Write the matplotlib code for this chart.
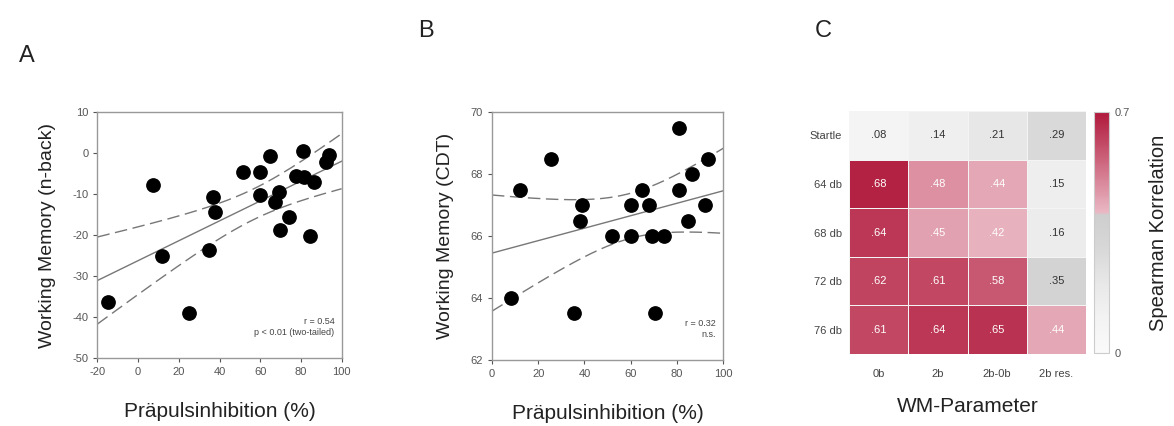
import numpy as np
import matplotlib
matplotlib.use("Agg")
import matplotlib.pyplot as plt
from matplotlib.colors import LinearSegmentedColormap

plt.rcParams['font.family'] = ['Liberation Sans', 'DejaVu Sans']
plt.rcParams['axes.unicode_minus'] = False

# Panel A: PPI vs n-back
ppi_a = [-14.6, 7.5, 11.6, 24.8, 34.9, 37.0, 37.9, 51.5, 59.7, 59.7, 64.6,
         67.4, 69.3, 69.5, 74.3, 77.5, 80.8, 81.3, 84.6, 86.2, 92.1, 93.6]
wm_a = [-36.3, -7.7, -25.1, -38.9, -23.7, -10.6, -14.4, -4.7, -4.7, -10.1, -0.7,
        -11.8, -9.6, -18.8, -15.5, -5.6, 0.4, -5.9, -20.2, -7.0, -2.2, -0.4]

# Panel B: PPI vs CDT
ppi_b = [8.2, 12.2, 25.6, 35.3, 38.1, 38.8, 51.8, 60.0, 60.0, 64.7,
         67.9, 69.4, 70.5, 74.5, 81.0, 81.0, 84.6, 86.6, 92.1, 93.5]
wm_b = [64.0, 67.5, 68.5, 63.5, 66.5, 67.0, 66.0, 66.0, 67.0, 67.5,
        67.0, 66.0, 63.5, 66.0, 69.5, 67.5, 66.5, 68.0, 67.0, 68.5]

# Panel C: Spearman correlations
rows = ["Startle", "64 db", "68 db", "72 db", "76 db"]
cols = ["0b", "2b", "2b-0b", "2b res."]
rho = [[.08, .14, .21, .29],
       [.68, .48, .44, .15],
       [.64, .45, .42, .16],
       [.62, .61, .58, .35],
       [.61, .64, .65, .44]]

TICK_C = "#555555"
FRAME_C = "#999999"


def fit_ci(x, y, xs, t):
    # least squares line with 95% band for the mean
    x = np.asarray(x); y = np.asarray(y)
    n = len(x)
    b, a = np.polyfit(x, y, 1)
    res = y - (a + b*x)
    s = np.sqrt(np.sum(res**2)/(n-2))
    sxx = np.sum((x-x.mean())**2)
    yh = a + b*xs
    se = s*np.sqrt(1.0/n + (xs-x.mean())**2/sxx)
    return yh, yh-t*se, yh+t*se


def scatter_panel(ax, x, y, xlim, ylim, xt, yt, ylabel, t, txt):
    ax.scatter(x, y, s=92, color="black", zorder=3, clip_on=False)
    xs = np.linspace(xlim[0], xlim[1], 200)
    yh, lo, hi = fit_ci(x, y, xs, t)
    ax.plot(xs, yh, color="#777777", lw=1.0)
    ax.plot(xs, lo, color="#777777", lw=1.0, dashes=(9, 4))
    ax.plot(xs, hi, color="#777777", lw=1.0, dashes=(9, 4))
    ax.set_xlim(xlim)
    ax.set_ylim(ylim)
    ax.set_xticks(xt)
    ax.set_yticks(yt)
    ax.tick_params(labelsize=8, colors=TICK_C, length=3, width=0.8, direction="out")
    for sp in ax.spines.values():
        sp.set_color(FRAME_C)
        sp.set_linewidth(1.0)
    ax.set_xlabel("Präpulsinhibition (%)", fontsize=15, color="#222222", labelpad=18)
    ax.set_ylabel(ylabel, fontsize=14, color="#222222", labelpad=12)
    ax.text(0.97, 0.085, txt, transform=ax.transAxes, ha="right", va="bottom",
            fontsize=6.5, color="#444444", linespacing=1.3, multialignment="right")


fig = plt.figure(figsize=(11.74, 4.26), dpi=100)

axA = fig.add_axes([0.083, 0.159, 0.208, 0.578])
scatter_panel(axA, ppi_a, wm_a, (-20, 100), (-50, 10), range(-20, 101, 20),
              range(-50, 11, 10), "Working Memory (n-back)", 2.086,
              "r = 0.54\np < 0.01 (two-tailed)")

axB = fig.add_axes([0.419, 0.155, 0.197, 0.582])
scatter_panel(axB, ppi_b, wm_b, (0, 100), (62, 70), range(0, 101, 20),
              range(62, 71, 2), "Working Memory (CDT)", 2.101,
              "r = 0.32\nn.s.")

# heatmap
cmap = LinearSegmentedColormap.from_list(
    "wm", [(0.0, "#fafafa"), (0.10/0.7, "#f3f3f3"), (0.20/0.7, "#e8e8e8"),
           (0.30/0.7, "#d8d8d8"), (0.40/0.7, "#cecece"), (0.41/0.7, "#eab7c3"),
           (1.0, "#b0173a")])
axC = fig.add_axes([0.7232, 0.169, 0.2019, 0.5704])
data = np.array(rho)
im = axC.pcolormesh(data, cmap=cmap, vmin=0, vmax=0.7, edgecolors="#f4f4f4",
                    linewidth=0.6)
axC.set_xlim(0, len(cols))
axC.set_ylim(len(rows), 0)
for i in range(len(rows)):
    for j in range(len(cols)):
        v = data[i, j]
        axC.text(j+0.5, i+0.5, ("%.2f" % v)[1:], ha="center", va="center",
                 fontsize=8, color="white" if v > 0.4 else "#333333")
axC.set_xticks(np.arange(len(cols))+0.5)
axC.set_xticklabels(cols)
axC.set_yticks(np.arange(len(rows))+0.5)
axC.set_yticklabels(rows)
axC.tick_params(axis="x", length=0, labelsize=8, colors="#444444", pad=11)
axC.tick_params(axis="y", length=0, labelsize=8, colors="#444444", pad=5)
for sp in axC.spines.values():
    sp.set_visible(False)
axC.set_xlabel("WM-Parameter", fontsize=15, color="#222222", labelpad=13)

cax = fig.add_axes([0.9319, 0.171, 0.0128, 0.567])
cb = fig.colorbar(im, cax=cax, ticks=[0, 0.7])
cb.ax.set_yticklabels(["0", "0.7"])
cb.ax.tick_params(length=0, labelsize=8, colors="#555555", pad=4)
cb.outline.set_edgecolor("#cccccc")
cb.outline.set_linewidth(0.8)
cb.set_label("Spearman Korrelation", fontsize=14.5, color="#222222", labelpad=14)

fig.text(0.016, 0.868, "A", fontsize=17, color="#222222", va="center")
fig.text(0.356, 0.928, "B", fontsize=17, color="#222222", va="center")
fig.text(0.694, 0.928, "C", fontsize=17, color="#222222", va="center")

fig.savefig("out.png", dpi=100)
